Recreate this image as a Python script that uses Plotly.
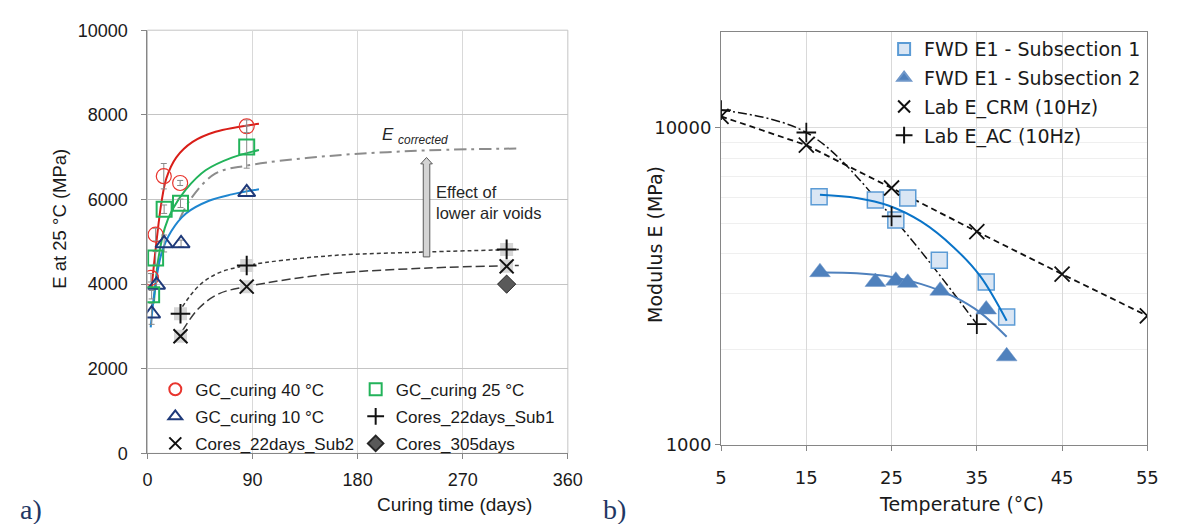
import plotly.graph_objects as go

# ---------------- Panel a) data ----------------
gc40_days = [3, 7, 14, 28, 85]
gc40_E = [4150, 5170, 6550, 6390, 7730]
gc40_err = [100, 150, 300, 60, 150]

gc25_days = [3.6, 7, 14.3, 28.3, 85]
gc25_E = [3750, 4620, 5770, 5910, 7240]
gc25_err = [100, 150, 100, 100, 500]

gc10_days = [3.6, 7.8, 14.3, 28.8, 85]
gc10_E = [3300, 3980, 4960, 4960, 6170]
gc10_err = [250, 100, 200, 80, 80]

sub1_days = [28.3, 85, 307.6]
sub1_E = [3300, 4440, 4820]
sub2_days = [28.3, 85, 307.6]
sub2_E = [2770, 3940, 4420]
c305_days = [307.6]
c305_E = [4000]

# trend curves
fit40_days = [3.5, 7.8, 12, 16.2, 24.6, 38.7, 58.3, 95.5]
fit40_E = [3900, 5020, 5930, 6500, 6990, 7360, 7600, 7790]
fit25_days = [5.6, 9.2, 14.9, 21.8, 33, 49.8, 72.3, 95.5]
fit25_E = [3580, 4570, 5330, 5780, 6240, 6690, 6990, 7170]
fit10_days = [2.8, 6.4, 12, 20.4, 33, 52.7, 72.3, 95.5]
fit10_E = [2980, 3890, 4720, 5250, 5670, 5970, 6120, 6240]
ecorr_days = [27.5, 37, 58, 85, 156, 240, 320]
ecorr_E = [5530, 6010, 6610, 6800, 7030, 7160, 7205]
fitsub1_days = [30, 44, 61, 85, 156, 240, 318]
fitsub1_E = [3470, 3960, 4265, 4440, 4670, 4760, 4820]
fitsub2_days = [30, 44, 61, 85, 156, 240, 318]
fitsub2_E = [2900, 3430, 3770, 3940, 4240, 4380, 4440]

a_xticks = [0, 90, 180, 270, 360]
a_yticks = [0, 2000, 4000, 6000, 8000, 10000]
a_yticktext = ["0", "2000", "4000", "6000", "8000", "10000"]

# ---------------- Panel b) data ----------------
fwd1_T = [16.5, 23.1, 25.5, 26.9, 30.6, 36.1, 38.5]
fwd1_E = [6050, 5910, 5110, 6000, 3820, 3260, 2530]
fwd2_T = [16.6, 23.1, 25.5, 26.9, 30.7, 36.1, 38.5]
fwd2_E = [3500, 3260, 3290, 3240, 3060, 2670, 1900]
crm_T = [5, 15, 25, 35, 45, 55]
crm_E = [10850, 8800, 6450, 4700, 3450, 2550]
ac_T = [5, 15, 25, 35]
ac_E = [11350, 9650, 5250, 2400]
fit1_T = [16.6, 20.9, 24.7, 28.5, 32.3, 35.4, 38.5]
fit1_E = [6140, 6000, 5670, 5050, 4190, 3400, 2460]
fit2_T = [17, 20.9, 24.7, 28.5, 32.3, 35.4, 38.5]
fit2_E = [3490, 3470, 3390, 3210, 2930, 2610, 2190]

b_xticks = [5, 15, 25, 35, 45, 55]
b_yticks = [1000, 10000]
b_minor = [2000, 3000, 4000, 5000, 6000, 7000, 8000, 9000, 20000]

W, H = 1181, 524
def px(x):
    return x / W
def py(y):
    return 1 - y / H

FA = "Liberation Sans"
FB = "DejaVu Sans"
TXT = "#1a1a1a"

fig = go.Figure()

# ---------- panel a traces ----------
def line_a(x, y, color, width=2, dash="solid"):
    fig.add_trace(go.Scatter(x=x, y=y, mode="lines", xaxis="x", yaxis="y",
                             line=dict(color=color, width=width, dash=dash, shape="spline", smoothing=1.0),
                             showlegend=False, hoverinfo="skip"))

line_a(ecorr_days, ecorr_E, "#8c8c8c", 2, "12px,5px,3px,5px")
line_a(fitsub1_days, fitsub1_E, "#3a3a3a", 1.5, "4px,3px")
line_a(fitsub2_days, fitsub2_E, "#3a3a3a", 1.5, "9px,4px")
line_a(fit40_days, fit40_E, "#D91E18", 2)
line_a(fit25_days, fit25_E, "#22B35A", 2)
line_a(fit10_days, fit10_E, "#1F86D0", 2)

err = dict(type="data", color="#8a8a8a", thickness=1, width=3)

fig.add_trace(go.Scatter(x=gc40_days, y=gc40_E, mode="markers", name="GC_curing 40 °C",
                         xaxis="x", yaxis="y", legend="legend", legendgroup="g1",
                         error_y=dict(err, array=gc40_err),
                         marker=dict(symbol="circle-open", size=15, color="#E8352E", line=dict(width=1.2))))
fig.add_trace(go.Scatter(x=gc10_days, y=gc10_E, mode="markers", name="GC_curing 10 °C",
                         xaxis="x", yaxis="y", legend="legend", legendgroup="g2",
                         error_y=dict(err, array=gc10_err),
                         marker=dict(symbol="triangle-up-open", size=15, color="#1F3A7A", line=dict(width=2))))
fig.add_trace(go.Scatter(x=gc25_days, y=gc25_E, mode="markers", name="GC_curing 25 °C",
                         xaxis="x", yaxis="y", legend="legend2", legendgroup="g4",
                         error_y=dict(err, array=gc25_err),
                         marker=dict(symbol="square-open", size=15, color="#22B35A", line=dict(width=2))))

# grey backgrounds of the core markers
for xs, ys in [(sub1_days, sub1_E), (sub2_days, sub2_E)]:
    fig.add_trace(go.Scatter(x=xs, y=ys, mode="markers", xaxis="x", yaxis="y", showlegend=False,
                             hoverinfo="skip", marker=dict(symbol="square", size=13, color="#d6d6d6")))

fig.add_trace(go.Scatter(x=sub2_days, y=sub2_E, mode="markers", name="Cores_22days_Sub2",
                         xaxis="x", yaxis="y", legend="legend", legendgroup="g3",
                         marker=dict(symbol="x-thin-open", size=14, color="#111111", line=dict(width=2))))
fig.add_trace(go.Scatter(x=sub1_days, y=sub1_E, mode="markers", name="Cores_22days_Sub1",
                         xaxis="x", yaxis="y", legend="legend2", legendgroup="g5",
                         marker=dict(symbol="cross-thin-open", size=14, color="#111111", line=dict(width=2))))
fig.add_trace(go.Scatter(x=c305_days, y=c305_E, mode="markers", name="Cores_305days",
                         xaxis="x", yaxis="y", legend="legend2", legendgroup="g6",
                         marker=dict(symbol="diamond", size=14, color="#595959", line=dict(width=1, color="#262626"))))

# ---------- panel b traces ----------
def line_b(x, y, color, width, dash="solid", shape="spline"):
    fig.add_trace(go.Scatter(x=x, y=y, mode="lines", xaxis="x2", yaxis="y2",
                             line=dict(color=color, width=width, dash=dash, shape=shape),
                             showlegend=False, hoverinfo="skip"))

line_b(crm_T, crm_E, "#111111", 1.8, "6px,4px", "linear")
line_b(ac_T, ac_E, "#111111", 1.5, "9px,3px,2px,3px", "spline")

fig.add_trace(go.Scatter(x=fwd1_T, y=fwd1_E, mode="markers", name="FWD E1 - Subsection 1",
                         xaxis="x2", yaxis="y2", legend="legend3", legendgroup="r1",
                         marker=dict(symbol="square", size=16, color="#DAE6F4", line=dict(width=1.5, color="#5B9BD5"))))
fig.add_trace(go.Scatter(x=fwd2_T, y=fwd2_E, mode="markers", name="FWD E1 - Subsection 2",
                         xaxis="x2", yaxis="y2", legend="legend3", legendgroup="r2",
                         marker=dict(symbol="triangle-up", size=18, color="#4F81BD", line=dict(width=0.5, color="#6f97c9"))))
line_b(fit1_T, fit1_E, "#0A74C8", 2)
line_b(fit2_T, fit2_E, "#4F81BD", 2)
fig.add_trace(go.Scatter(x=crm_T, y=crm_E, mode="markers", name="Lab E_CRM (10Hz)",
                         xaxis="x2", yaxis="y2", legend="legend3", legendgroup="r3",
                         marker=dict(symbol="x-thin-open", size=15, color="#111111", line=dict(width=1.8))))
fig.add_trace(go.Scatter(x=ac_T, y=ac_E, mode="markers", name="Lab E_AC (10Hz)",
                         xaxis="x2", yaxis="y2", legend="legend3", legendgroup="r4",
                         marker=dict(symbol="cross-thin-open", size=14, color="#111111", line=dict(width=1.8))))

# ---------- layout ----------
ax_common = dict(ticks="outside", ticklen=5, tickcolor="#868686", showline=True, linecolor="#868686",
                 linewidth=1, zeroline=False)

legend_a = dict(xanchor="left", yanchor="top", bgcolor="rgba(0,0,0,0)", borderwidth=0,
                font=dict(family=FA, size=17, color=TXT), traceorder="grouped", tracegroupgap=2,
                itemsizing="constant")

fig.update_layout(
    width=W, height=H,
    margin=dict(l=0, r=0, t=0, b=0),
    paper_bgcolor="white", plot_bgcolor="white",
    font=dict(family=FA, color=TXT),
    xaxis=dict(ax_common, domain=[px(144), px(572)], range=[0, 360], tickvals=a_xticks,
               showgrid=True, gridcolor="#d9d9d9", gridwidth=1, anchor="y", ticklabelstandoff=5,
               tickfont=dict(family=FA, size=18, color=TXT)),
    yaxis=dict(ax_common, domain=[py(461), py(21)], range=[0, 10000], tickvals=a_yticks,
               ticktext=a_yticktext, ticklabelstandoff=10,
               showgrid=True, gridcolor="#c4c4c4", gridwidth=1, anchor="x",
               tickfont=dict(family=FA, size=18, color=TXT)),
    xaxis2=dict(ax_common, domain=[px(728), px(1162)], range=[5, 55], tickvals=b_xticks,
                showgrid=True, gridcolor="#d9d9d9", anchor="y2", mirror=True, ticklabelstandoff=12,
                tickfont=dict(family=FB, size=18, color=TXT)),
    yaxis2=dict(ax_common, domain=[py(452), py(23)], type="log", range=[3, 4.301],
                tickvals=b_yticks, ticktext=["1000", "10000"], showgrid=True, gridcolor="#dcdcdc",
                anchor="x2", mirror=True,
                minor=dict(tickvals=b_minor, showgrid=True, gridcolor="#efefef", ticklen=0),
                tickfont=dict(family=FB, size=18, color=TXT)),
    legend=dict(legend_a, x=px(152), y=py(376)),
    legend2=dict(legend_a, x=px(356), y=py(376)),
    legend3=dict(legend_a, x=px(894), y=py(21), font=dict(family=FB, size=19, color=TXT),
                 tracegroupgap=1),
)

# light border on top/right of panel a
fig.add_shape(type="rect", xref="x domain", yref="y domain", x0=0, x1=1, y0=0, y1=1,
              line=dict(color="#c4c4c4", width=1), layer="below")

# block arrow (Effect of lower air voids)
arrow_path = ("M 236.2,4643 L 241.8,4643 L 241.8,6841 L 244,6841 L 239,6993 "
              "L 234,6841 L 236.2,6841 Z")
fig.add_shape(type="path", xref="x", yref="y", path=arrow_path,
              fillcolor="#d4d4d4", line=dict(color="#5a5a5a", width=1))

ann = [
    dict(x=px(55), y=py(217), text="E at 25 °C (MPa)", textangle=-90,
         font=dict(family=FA, size=18.5, color=TXT)),
    dict(x=px(457), y=py(514), text="Curing time (days)", font=dict(family=FA, size=19, color=TXT)),
    dict(x=px(660), y=py(244), text="Modulus E (MPa)", textangle=-90,
         font=dict(family=FB, size=19, color=TXT)),
    dict(x=px(973), y=py(514), text="Temperature (°C)", font=dict(family=FB, size=19, color=TXT)),
    dict(x=px(25), y=py(519), text="a)", font=dict(family="Liberation Serif", size=28, color="#1F3864")),
    dict(x=px(620), y=py(519), text="b)", font=dict(family="Liberation Serif", size=28, color="#1F3864")),
    dict(x=px(416), y=py(131), text="<i>E</i> <sub><i>corrected</i></sub>",
         font=dict(family=FA, size=17, color="#262626")),
    dict(x=px(436), y=py(200), text="Effect of<br>lower air voids", xanchor="left", align="left",
         font=dict(family=FA, size=16.5, color="#262626")),
]
for a in ann:
    a.setdefault("xanchor", "center")
    fig.add_annotation(xref="paper", yref="paper", yanchor="middle", showarrow=False, **a)

fig.write_html("out.html")
